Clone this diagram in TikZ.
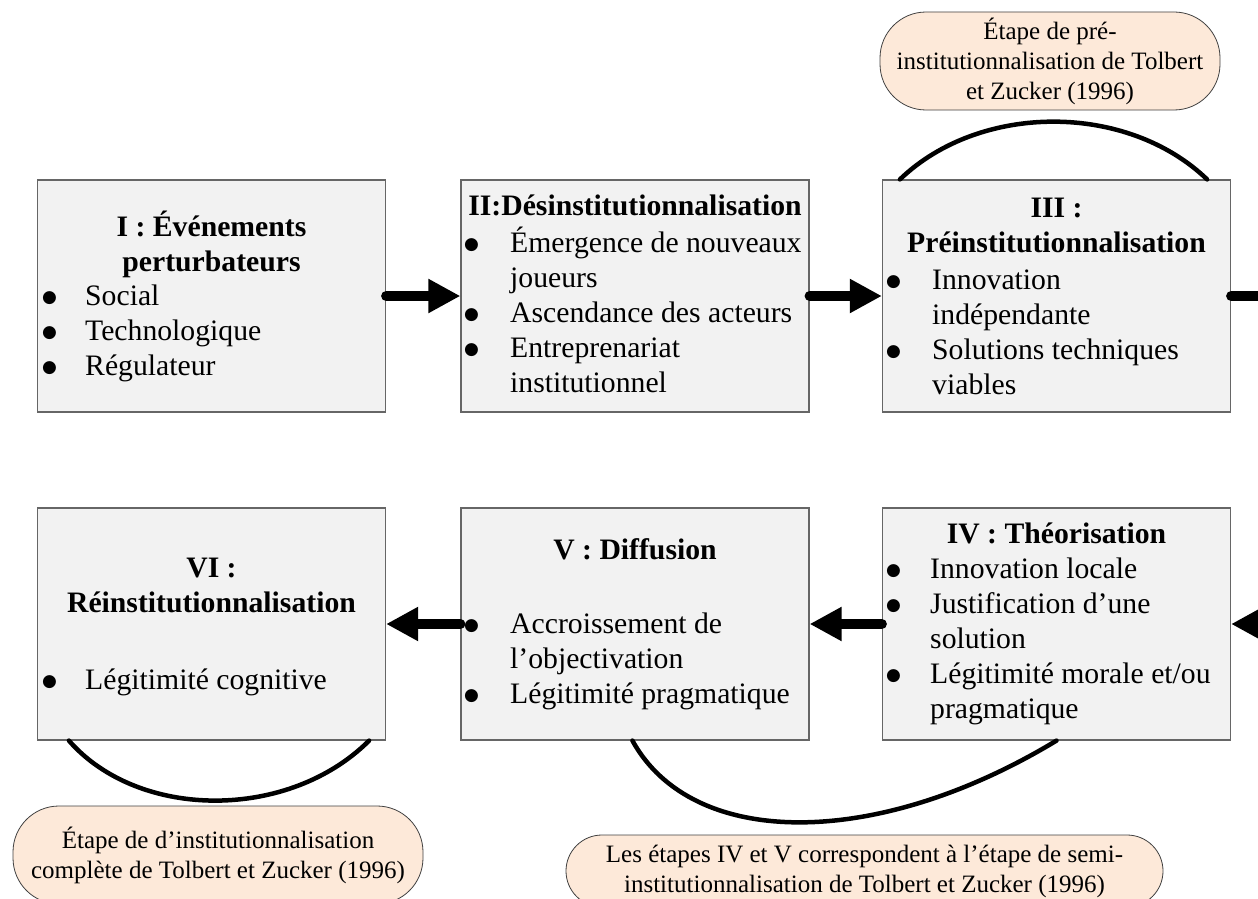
\documentclass[tikz,border=0pt]{standalone}
\usepackage{fontspec}
\setmainfont{Liberation Serif}
\newfontfamily\pucefont{DejaVu Sans}
\usepackage{xcolor}
\usetikzlibrary{arrows.meta}
\definecolor{gris}{HTML}{F2F2F2}
\definecolor{peche}{HTML}{FDE9D9}
\newcommand\puce{\raisebox{3pt}{\pucefont\fontsize{17}{17}\selectfont ●}}

\begin{document}
\begin{tikzpicture}[x=1pt,y=-1pt,>={Triangle[length=32pt,width=32pt]},line cap=round,
  stage/.style={draw=black!60,line width=1.2pt,fill=gris,minimum width=348pt,minimum height=232pt,inner sep=0pt},
  titre/.style={anchor=base,inner sep=0pt,font=\fontsize{29.7}{35}\selectfont},
  liste/.style={anchor=base west,inner sep=0pt,font=\fontsize{29.7}{35}\selectfont},
  note/.style={draw=black!75,line width=0.8pt,fill=peche,inner sep=0pt,align=center,font=\fontsize{25}{30}\selectfont},
  flow/.style={line width=10pt},
  bracket/.style={line width=4.5pt}]
\useasboundingbox (0,0) rectangle (1258,899);
% les six etapes
\node[stage] (etapeI) at (211.5,296) {};
\node[stage] (etapeII) at (635,296) {};
\node[stage] (etapeIII) at (1056.5,296) {};
\node[stage] (etapeVI) at (211.5,624) {};
\node[stage] (etapeV) at (635,624) {};
\node[stage] (etapeIV) at (1056.5,624) {};
% titres
\node[titre] (titreI) at (211.5,236) {\begin{tabular}[t]{@{}c@{}}\textbf{I : Événements}\\\textbf{perturbateurs}\end{tabular}};
\node[titre] (titreII) at (635,215) {\textbf{II:Désinstitutionnalisation}};
\node[titre] (titreIII) at (1056.5,217) {\begin{tabular}[t]{@{}c@{}}\textbf{III :}\\\textbf{Préinstitutionnalisation}\end{tabular}};
\node[titre] (titreVI) at (211.5,577) {\begin{tabular}[t]{@{}c@{}}\textbf{VI :}\\\textbf{Réinstitutionnalisation}\end{tabular}};
\node[titre] (titreV) at (635,559) {\textbf{V : Diffusion}};
\node[titre] (titreIV) at (1056.5,543) {\textbf{IV : Théorisation}};
% listes
\node[liste] (listeI) at (42,305) {\begin{tabular}[t]{@{}p{43pt}@{}l@{}}
\puce & Social\\
\puce & Technologique\\
\puce & Régulateur
\end{tabular}};
\node[liste] (listeII) at (464,252) {\begin{tabular}[t]{@{}p{46pt}@{}l@{}}
\puce & Émergence de nouveaux\\
 & joueurs\\
\puce & Ascendance des acteurs\\
\puce & Entreprenariat\\
 & institutionnel
\end{tabular}};
\node[liste] (listeIII) at (886,289) {\begin{tabular}[t]{@{}p{46pt}@{}l@{}}
\puce & Innovation\\
 & indépendante\\
\puce & Solutions techniques\\
 & viables
\end{tabular}};
\node[liste] (listeVI) at (42,689) {\begin{tabular}[t]{@{}p{43pt}@{}l@{}}
\puce & Légitimité cognitive
\end{tabular}};
\node[liste] (listeV) at (464,633) {\begin{tabular}[t]{@{}p{46pt}@{}l@{}}
\puce & Accroissement de\\
 & l’objectivation\\
\puce & Légitimité pragmatique
\end{tabular}};
\node[liste] (listeIV) at (886,578) {\begin{tabular}[t]{@{}p{44pt}@{}l@{}}
\puce & Innovation locale\\
\puce & Justification d’une\\
 & solution\\
\puce & Légitimité morale et/ou\\
 & pragmatique
\end{tabular}};
% fleches
\coordinate (sortie) at (1300,296);
\coordinate (entree) at (1300,624);
\draw[flow,->] (etapeI) -- (etapeII);
\draw[flow,->] (etapeII) -- (etapeIII);
\draw[flow] (etapeIII.east) -- (sortie);
\draw[flow,->] (entree) -- (etapeIV);
\draw[flow,->] (etapeIV) -- (etapeV);
\draw[flow,->] (etapeV) -- (etapeVI);
% Tolbert et Zucker
\draw[bracket] ([xshift=18pt]etapeIII.north west) .. controls +(80,-77) and +(-80,-77) .. ([xshift=-24pt]etapeIII.north east);
\draw[bracket] ([xshift=32pt]etapeVI.south west) .. controls +(70,80) and +(-80,80) .. ([xshift=-17pt]etapeVI.south east);
\draw[bracket] ([xshift=172pt]etapeV.south west) .. controls +(60,109) and +(-180,109) .. (etapeIV.south);
\node[note,rounded corners=46pt,minimum width=340pt,minimum height=98pt] (notePre) at (1050,61)
  {Étape de pré-\\institutionnalisation de Tolbert\\et Zucker (1996)};
\node[note,rounded corners=46pt,minimum width=410pt,minimum height=98pt] (noteComplete) at (218,855)
  {Étape de d’institutionnalisation\\complète de Tolbert et Zucker (1996)};
\node[note,rounded corners=36pt,minimum width=597pt,minimum height=72pt] (noteSemi) at (864.5,871)
  {Les étapes IV et V correspondent à l’étape de semi-\\institutionnalisation de Tolbert et Zucker (1996)};
\end{tikzpicture}
\end{document}
